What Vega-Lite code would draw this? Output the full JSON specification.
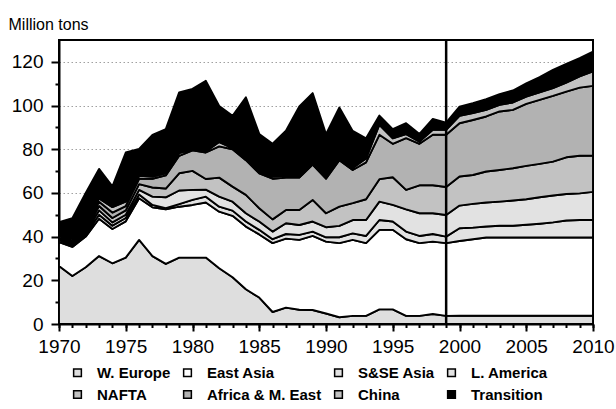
{
  "$schema": "https://vega.github.io/schema/vega-lite/v6.json",
  "width": 534,
  "height": 284,
  "autosize": {"type": "none"},
  "padding": {"left": 59, "top": 40, "right": 23, "bottom": 85},
  "background": "white",
  "config": {
    "view": {"stroke": "black", "strokeWidth": 2},
    "font": "Liberation Sans",
    "axis": {"labelFont": "Liberation Sans", "labelColor": "black", "domainColor": "black", "tickColor": "black", "tickWidth": 2, "domainWidth": 2}
  },
  "datasets": {
    "regions": [
      {"region": "W. Europe", "rank": 1}, {"region": "East Asia", "rank": 2}, {"region": "S&SE Asia", "rank": 3}, {"region": "L. America", "rank": 4},
      {"region": "NAFTA", "rank": 5}, {"region": "Africa & M. East", "rank": 6}, {"region": "China", "rank": 7}, {"region": "Transition", "rank": 8}
    ],
    "main": [
      {"year":1970,"region":"W. Europe","value":26.6},{"year":1970,"region":"East Asia","value":10.9},{"year":1970,"region":"S&SE Asia","value":1.0},{"year":1970,"region":"L. America","value":1.0},{"year":1970,"region":"NAFTA","value":1.0},{"year":1970,"region":"Africa & M. East","value":0.5},{"year":1970,"region":"China","value":0.8},{"year":1970,"region":"Transition","value":4.8},
      {"year":1971,"region":"W. Europe","value":22.0},{"year":1971,"region":"East Asia","value":13.3},{"year":1971,"region":"S&SE Asia","value":0.7},{"year":1971,"region":"L. America","value":0.7},{"year":1971,"region":"NAFTA","value":0.7},{"year":1971,"region":"Africa & M. East","value":0.6},{"year":1971,"region":"China","value":1.0},{"year":1971,"region":"Transition","value":9.4},
      {"year":1972,"region":"W. Europe","value":26.0},{"year":1972,"region":"East Asia","value":14.0},{"year":1972,"region":"S&SE Asia","value":1.0},{"year":1972,"region":"L. America","value":1.0},{"year":1972,"region":"NAFTA","value":1.0},{"year":1972,"region":"Africa & M. East","value":0.8},{"year":1972,"region":"China","value":0.7},{"year":1972,"region":"Transition","value":15.5},
      {"year":1973,"region":"W. Europe","value":31.1},{"year":1973,"region":"East Asia","value":17.1},{"year":1973,"region":"S&SE Asia","value":1.8},{"year":1973,"region":"L. America","value":2.0},{"year":1973,"region":"NAFTA","value":2.0},{"year":1973,"region":"Africa & M. East","value":2.0},{"year":1973,"region":"China","value":1.5},{"year":1973,"region":"Transition","value":13.5},
      {"year":1974,"region":"W. Europe","value":27.8},{"year":1974,"region":"East Asia","value":15.7},{"year":1974,"region":"S&SE Asia","value":1.5},{"year":1974,"region":"L. America","value":1.5},{"year":1974,"region":"NAFTA","value":2.0},{"year":1974,"region":"Africa & M. East","value":2.5},{"year":1974,"region":"China","value":2.5},{"year":1974,"region":"Transition","value":9.5},
      {"year":1975,"region":"W. Europe","value":30.4},{"year":1975,"region":"East Asia","value":16.6},{"year":1975,"region":"S&SE Asia","value":1.5},{"year":1975,"region":"L. America","value":1.5},{"year":1975,"region":"NAFTA","value":2.0},{"year":1975,"region":"Africa & M. East","value":2.0},{"year":1975,"region":"China","value":2.0},{"year":1975,"region":"Transition","value":22.5},
      {"year":1976,"region":"W. Europe","value":38.5},{"year":1976,"region":"East Asia","value":19.1},{"year":1976,"region":"S&SE Asia","value":1.7},{"year":1976,"region":"L. America","value":2.1},{"year":1976,"region":"NAFTA","value":2.6},{"year":1976,"region":"Africa & M. East","value":2.5},{"year":1976,"region":"China","value":1.3},{"year":1976,"region":"Transition","value":12.3},
      {"year":1977,"region":"W. Europe","value":31.1},{"year":1977,"region":"East Asia","value":22.3},{"year":1977,"region":"S&SE Asia","value":1.1},{"year":1977,"region":"L. America","value":3.8},{"year":1977,"region":"NAFTA","value":4.2},{"year":1977,"region":"Africa & M. East","value":4.0},{"year":1977,"region":"China","value":1.0},{"year":1977,"region":"Transition","value":19.1},
      {"year":1978,"region":"W. Europe","value":27.5},{"year":1978,"region":"East Asia","value":25.0},{"year":1978,"region":"S&SE Asia","value":0.5},{"year":1978,"region":"L. America","value":5.0},{"year":1978,"region":"NAFTA","value":4.0},{"year":1978,"region":"Africa & M. East","value":6.0},{"year":1978,"region":"China","value":1.0},{"year":1978,"region":"Transition","value":20.2},
      {"year":1979,"region":"W. Europe","value":30.4},{"year":1979,"region":"East Asia","value":23.3},{"year":1979,"region":"S&SE Asia","value":1.2},{"year":1979,"region":"L. America","value":6.2},{"year":1979,"region":"NAFTA","value":7.9},{"year":1979,"region":"Africa & M. East","value":8.0},{"year":1979,"region":"China","value":1.2},{"year":1979,"region":"Transition","value":27.8},
      {"year":1980,"region":"W. Europe","value":30.4},{"year":1980,"region":"East Asia","value":24.1},{"year":1980,"region":"S&SE Asia","value":2.3},{"year":1980,"region":"L. America","value":4.6},{"year":1980,"region":"NAFTA","value":8.7},{"year":1980,"region":"Africa & M. East","value":9.4},{"year":1980,"region":"China","value":0.5},{"year":1980,"region":"Transition","value":27.6},
      {"year":1981,"region":"W. Europe","value":30.4},{"year":1981,"region":"East Asia","value":25.2},{"year":1981,"region":"S&SE Asia","value":2.7},{"year":1981,"region":"L. America","value":3.2},{"year":1981,"region":"NAFTA","value":4.9},{"year":1981,"region":"Africa & M. East","value":12.1},{"year":1981,"region":"China","value":0.5},{"year":1981,"region":"Transition","value":32.3},
      {"year":1982,"region":"W. Europe","value":25.5},{"year":1982,"region":"East Asia","value":25.9},{"year":1982,"region":"S&SE Asia","value":2.3},{"year":1982,"region":"L. America","value":4.6},{"year":1982,"region":"NAFTA","value":8.7},{"year":1982,"region":"Africa & M. East","value":14.3},{"year":1982,"region":"China","value":2.0},{"year":1982,"region":"Transition","value":16.5},
      {"year":1983,"region":"W. Europe","value":21.4},{"year":1983,"region":"East Asia","value":28.1},{"year":1983,"region":"S&SE Asia","value":2.4},{"year":1983,"region":"L. America","value":4.1},{"year":1983,"region":"NAFTA","value":6.9},{"year":1983,"region":"Africa & M. East","value":17.1},{"year":1983,"region":"China","value":0.5},{"year":1983,"region":"Transition","value":14.8},
      {"year":1984,"region":"W. Europe","value":15.9},{"year":1984,"region":"East Asia","value":28.7},{"year":1984,"region":"S&SE Asia","value":2.3},{"year":1984,"region":"L. America","value":3.8},{"year":1984,"region":"NAFTA","value":8.4},{"year":1984,"region":"Africa & M. East","value":15.9},{"year":1984,"region":"China","value":0.8},{"year":1984,"region":"Transition","value":28.0},
      {"year":1985,"region":"W. Europe","value":12.1},{"year":1985,"region":"East Asia","value":28.9},{"year":1985,"region":"S&SE Asia","value":2.1},{"year":1985,"region":"L. America","value":3.8},{"year":1985,"region":"NAFTA","value":6.1},{"year":1985,"region":"Africa & M. East","value":16.0},{"year":1985,"region":"China","value":0.8},{"year":1985,"region":"Transition","value":17.2},
      {"year":1986,"region":"W. Europe","value":5.5},{"year":1986,"region":"East Asia","value":31.5},{"year":1986,"region":"S&SE Asia","value":1.8},{"year":1986,"region":"L. America","value":3.5},{"year":1986,"region":"NAFTA","value":5.6},{"year":1986,"region":"Africa & M. East","value":18.6},{"year":1986,"region":"China","value":1.0},{"year":1986,"region":"Transition","value":15.0},
      {"year":1987,"region":"W. Europe","value":7.5},{"year":1987,"region":"East Asia","value":31.6},{"year":1987,"region":"S&SE Asia","value":2.1},{"year":1987,"region":"L. America","value":4.9},{"year":1987,"region":"NAFTA","value":6.1},{"year":1987,"region":"Africa & M. East","value":14.8},{"year":1987,"region":"China","value":0.8},{"year":1987,"region":"Transition","value":20.7},
      {"year":1988,"region":"W. Europe","value":6.5},{"year":1988,"region":"East Asia","value":32.0},{"year":1988,"region":"S&SE Asia","value":2.3},{"year":1988,"region":"L. America","value":4.5},{"year":1988,"region":"NAFTA","value":6.9},{"year":1988,"region":"Africa & M. East","value":14.8},{"year":1988,"region":"China","value":0.5},{"year":1988,"region":"Transition","value":32.1},
      {"year":1989,"region":"W. Europe","value":6.4},{"year":1989,"region":"East Asia","value":33.9},{"year":1989,"region":"S&SE Asia","value":2.0},{"year":1989,"region":"L. America","value":4.6},{"year":1989,"region":"NAFTA","value":9.9},{"year":1989,"region":"Africa & M. East","value":16.2},{"year":1989,"region":"China","value":0.3},{"year":1989,"region":"Transition","value":32.4},
      {"year":1990,"region":"W. Europe","value":4.8},{"year":1990,"region":"East Asia","value":32.9},{"year":1990,"region":"S&SE Asia","value":2.0},{"year":1990,"region":"L. America","value":4.6},{"year":1990,"region":"NAFTA","value":6.4},{"year":1990,"region":"Africa & M. East","value":15.8},{"year":1990,"region":"China","value":0.4},{"year":1990,"region":"Transition","value":20.0},
      {"year":1991,"region":"W. Europe","value":3.1},{"year":1991,"region":"East Asia","value":33.9},{"year":1991,"region":"S&SE Asia","value":2.7},{"year":1991,"region":"L. America","value":5.2},{"year":1991,"region":"NAFTA","value":8.8},{"year":1991,"region":"Africa & M. East","value":21.3},{"year":1991,"region":"China","value":1.0},{"year":1991,"region":"Transition","value":23.1},
      {"year":1992,"region":"W. Europe","value":3.7},{"year":1992,"region":"East Asia","value":34.8},{"year":1992,"region":"S&SE Asia","value":3.0},{"year":1992,"region":"L. America","value":6.1},{"year":1992,"region":"NAFTA","value":7.7},{"year":1992,"region":"Africa & M. East","value":15.2},{"year":1992,"region":"China","value":0.9},{"year":1992,"region":"Transition","value":17.0},
      {"year":1993,"region":"W. Europe","value":3.7},{"year":1993,"region":"East Asia","value":33.3},{"year":1993,"region":"S&SE Asia","value":3.3},{"year":1993,"region":"L. America","value":7.3},{"year":1993,"region":"NAFTA","value":9.5},{"year":1993,"region":"Africa & M. East","value":16.9},{"year":1993,"region":"China","value":1.8},{"year":1993,"region":"Transition","value":9.2},
      {"year":1994,"region":"W. Europe","value":6.7},{"year":1994,"region":"East Asia","value":36.4},{"year":1994,"region":"S&SE Asia","value":4.5},{"year":1994,"region":"L. America","value":8.4},{"year":1994,"region":"NAFTA","value":10.3},{"year":1994,"region":"Africa & M. East","value":20.3},{"year":1994,"region":"China","value":4.6},{"year":1994,"region":"Transition","value":4.2},
      {"year":1995,"region":"W. Europe","value":6.7},{"year":1995,"region":"East Asia","value":36.4},{"year":1995,"region":"S&SE Asia","value":3.8},{"year":1995,"region":"L. America","value":7.6},{"year":1995,"region":"NAFTA","value":12.7},{"year":1995,"region":"Africa & M. East","value":15.3},{"year":1995,"region":"China","value":2.5},{"year":1995,"region":"Transition","value":4.2},
      {"year":1996,"region":"W. Europe","value":3.7},{"year":1996,"region":"East Asia","value":35.1},{"year":1996,"region":"S&SE Asia","value":3.5},{"year":1996,"region":"L. America","value":10.2},{"year":1996,"region":"NAFTA","value":8.9},{"year":1996,"region":"Africa & M. East","value":23.7},{"year":1996,"region":"China","value":1.8},{"year":1996,"region":"Transition","value":5.0},
      {"year":1997,"region":"W. Europe","value":3.7},{"year":1997,"region":"East Asia","value":33.3},{"year":1997,"region":"S&SE Asia","value":3.3},{"year":1997,"region":"L. America","value":10.4},{"year":1997,"region":"NAFTA","value":12.8},{"year":1997,"region":"Africa & M. East","value":19.0},{"year":1997,"region":"China","value":1.0},{"year":1997,"region":"Transition","value":3.5},
      {"year":1998,"region":"W. Europe","value":4.6},{"year":1998,"region":"East Asia","value":33.1},{"year":1998,"region":"S&SE Asia","value":3.5},{"year":1998,"region":"L. America","value":9.5},{"year":1998,"region":"NAFTA","value":12.8},{"year":1998,"region":"Africa & M. East","value":23.1},{"year":1998,"region":"China","value":2.3},{"year":1998,"region":"Transition","value":5.0},
      {"year":1999,"region":"W. Europe","value":3.7},{"year":1999,"region":"East Asia","value":33.3},{"year":1999,"region":"S&SE Asia","value":3.0},{"year":1999,"region":"L. America","value":9.9},{"year":1999,"region":"NAFTA","value":12.8},{"year":1999,"region":"Africa & M. East","value":23.9},{"year":1999,"region":"China","value":2.3},{"year":1999,"region":"Transition","value":3.3},
      {"year":2000,"region":"W. Europe","value":3.8},{"year":2000,"region":"East Asia","value":34.2},{"year":2000,"region":"S&SE Asia","value":5.8},{"year":2000,"region":"L. America","value":10.4},{"year":2000,"region":"NAFTA","value":13.3},{"year":2000,"region":"Africa & M. East","value":24.4},{"year":2000,"region":"China","value":3.4},{"year":2000,"region":"Transition","value":4.2},
      {"year":2001,"region":"W. Europe","value":3.8},{"year":2001,"region":"East Asia","value":35.0},{"year":2001,"region":"S&SE Asia","value":5.3},{"year":2001,"region":"L. America","value":10.9},{"year":2001,"region":"NAFTA","value":13.2},{"year":2001,"region":"Africa & M. East","value":25.2},{"year":2001,"region":"China","value":3.1},{"year":2001,"region":"Transition","value":4.6},
      {"year":2002,"region":"W. Europe","value":3.8},{"year":2002,"region":"East Asia","value":35.8},{"year":2002,"region":"S&SE Asia","value":5.0},{"year":2002,"region":"L. America","value":11.0},{"year":2002,"region":"NAFTA","value":14.2},{"year":2002,"region":"Africa & M. East","value":25.2},{"year":2002,"region":"China","value":3.0},{"year":2002,"region":"Transition","value":4.9},
      {"year":2003,"region":"W. Europe","value":3.8},{"year":2003,"region":"East Asia","value":35.8},{"year":2003,"region":"S&SE Asia","value":5.4},{"year":2003,"region":"L. America","value":11.0},{"year":2003,"region":"NAFTA","value":14.5},{"year":2003,"region":"Africa & M. East","value":26.8},{"year":2003,"region":"China","value":3.0},{"year":2003,"region":"Transition","value":4.9},
      {"year":2004,"region":"W. Europe","value":3.8},{"year":2004,"region":"East Asia","value":35.8},{"year":2004,"region":"S&SE Asia","value":5.4},{"year":2004,"region":"L. America","value":11.5},{"year":2004,"region":"NAFTA","value":14.8},{"year":2004,"region":"Africa & M. East","value":26.7},{"year":2004,"region":"China","value":3.4},{"year":2004,"region":"Transition","value":5.5},
      {"year":2005,"region":"W. Europe","value":3.8},{"year":2005,"region":"East Asia","value":35.8},{"year":2005,"region":"S&SE Asia","value":5.8},{"year":2005,"region":"L. America","value":11.7},{"year":2005,"region":"NAFTA","value":15.3},{"year":2005,"region":"Africa & M. East","value":28.4},{"year":2005,"region":"China","value":3.3},{"year":2005,"region":"Transition","value":6.1},
      {"year":2006,"region":"W. Europe","value":3.8},{"year":2006,"region":"East Asia","value":35.8},{"year":2006,"region":"S&SE Asia","value":6.3},{"year":2006,"region":"L. America","value":12.1},{"year":2006,"region":"NAFTA","value":15.3},{"year":2006,"region":"Africa & M. East","value":29.3},{"year":2006,"region":"China","value":3.4},{"year":2006,"region":"Transition","value":7.0},
      {"year":2007,"region":"W. Europe","value":3.8},{"year":2007,"region":"East Asia","value":35.8},{"year":2007,"region":"S&SE Asia","value":6.9},{"year":2007,"region":"L. America","value":12.3},{"year":2007,"region":"NAFTA","value":15.5},{"year":2007,"region":"Africa & M. East","value":30.1},{"year":2007,"region":"China","value":3.6},{"year":2007,"region":"Transition","value":8.3},
      {"year":2008,"region":"W. Europe","value":3.8},{"year":2008,"region":"East Asia","value":35.8},{"year":2008,"region":"S&SE Asia","value":7.8},{"year":2008,"region":"L. America","value":12.1},{"year":2008,"region":"NAFTA","value":16.8},{"year":2008,"region":"Africa & M. East","value":30.1},{"year":2008,"region":"China","value":4.1},{"year":2008,"region":"Transition","value":8.6},
      {"year":2009,"region":"W. Europe","value":3.8},{"year":2009,"region":"East Asia","value":35.8},{"year":2009,"region":"S&SE Asia","value":8.0},{"year":2009,"region":"L. America","value":12.2},{"year":2009,"region":"NAFTA","value":17.2},{"year":2009,"region":"Africa & M. East","value":31.2},{"year":2009,"region":"China","value":5.1},{"year":2009,"region":"Transition","value":8.4},
      {"year":2010,"region":"W. Europe","value":3.8},{"year":2010,"region":"East Asia","value":35.8},{"year":2010,"region":"S&SE Asia","value":8.0},{"year":2010,"region":"L. America","value":12.9},{"year":2010,"region":"NAFTA","value":16.6},{"year":2010,"region":"Africa & M. East","value":31.9},{"year":2010,"region":"China","value":6.6},{"year":2010,"region":"Transition","value":9.1}
    ]
  },
  "layer": [
    {
      "data": {"name": "main"},
      "transform": [
        {"lookup": "region", "from": {"data": {"name": "regions"}, "key": "region", "fields": ["rank"]}}
      ],
      "mark": {"type": "area", "stroke": "black", "strokeWidth": 1.9, "strokeJoin": "round", "interpolate": "linear"},
      "encoding": {
        "x": {
          "field": "year", "type": "quantitative",
          "scale": {"domain": [1970, 2010], "nice": false, "zero": false},
          "axis": {"orient": "bottom", "values": [1970, 1975, 1980, 1985, 1990, 1995, 2000, 2005, 2010], "format": "d", "tickSize": 7, "labelFontSize": 19, "labelPadding": 6, "grid": false, "title": null, "labelFlush": false}
        },
        "y": {
          "field": "value", "type": "quantitative", "aggregate": "sum", "stack": "zero",
          "scale": {"domain": [0, 130], "nice": false},
          "axis": {"orient": "left", "values": [0, 20, 40, 60, 80, 100, 120], "tickSize": 8, "labelFontSize": 19, "labelPadding": 8, "grid": true, "gridDash": [1.5, 2.5], "gridColor": "#a0a0a0", "gridWidth": 1, "title": "Million tons", "titleAngle": 0, "titleAlign": "left", "titleBaseline": "alphabetic", "titleX": -51, "titleY": -11, "titleFontSize": 16, "titleFontWeight": "normal", "titleFont": "Liberation Sans", "titleColor": "black"}
        },
        "order": {"field": "rank", "type": "quantitative", "aggregate": "min"},
        "color": {
          "field": "region", "type": "nominal",
          "sort": ["W. Europe", "East Asia", "S&SE Asia", "L. America", "NAFTA", "Africa & M. East", "China", "Transition"],
          "scale": {
            "domain": ["W. Europe", "East Asia", "S&SE Asia", "L. America", "NAFTA", "Africa & M. East", "China", "Transition"],
            "range": ["#dedede", "#ffffff", "#e2e2e2", "#e2e2e2", "#c2c2c2", "#b2b2b2", "#c2c2c2", "#000000"]
          },
          "legend": {
            "orient": "none", "legendX": 11, "legendY": 325, "columns": 4, "direction": "horizontal", "title": null,
            "symbolType": "square", "symbolSize": 60, "symbolStrokeColor": "black", "symbolStrokeWidth": 1.5,
            "labelFont": "Liberation Sans", "labelFontSize": 15, "labelFontWeight": "bold", "labelColor": "black",
            "labelOffset": 12, "columnPadding": 9, "rowPadding": 6, "padding": 0,
            "encode": {"symbols": {"update": {"stroke": {"value": "black"}, "strokeWidth": {"value": 1.5}}}}
          }
        }
      }
    },
    {
      "data": {"values": [{"year": 1999}]},
      "mark": {"type": "rule", "color": "black", "strokeWidth": 2.5},
      "encoding": {
        "x": {
          "field": "year", "type": "quantitative",
          "scale": {"domain": [1970, 2010], "nice": false, "zero": false},
          "axis": {"orient": "bottom", "values": [1970,1971,1972,1973,1974,1975,1976,1977,1978,1979,1980,1981,1982,1983,1984,1985,1986,1987,1988,1989,1990,1991,1992,1993,1994,1995,1996,1997,1998,1999,2000,2001,2002,2003,2004,2005,2006,2007,2008,2009,2010], "tickSize": 3.5, "labels": false, "domain": false, "grid": false, "title": null}
        }
      }
    },
    {
      "data": {"values": [{"value": 0}]},
      "mark": {"type": "rule", "strokeOpacity": 0},
      "encoding": {
        "y": {
          "field": "value", "type": "quantitative",
          "scale": {"domain": [0, 130], "nice": false},
          "axis": {"orient": "left", "values": [10, 30, 50, 70, 90, 110], "tickSize": 4, "labels": false, "domain": false, "grid": false, "title": null}
        }
      }
    }
  ],
  "resolve": {"axis": {"x": "independent", "y": "independent"}}
}
